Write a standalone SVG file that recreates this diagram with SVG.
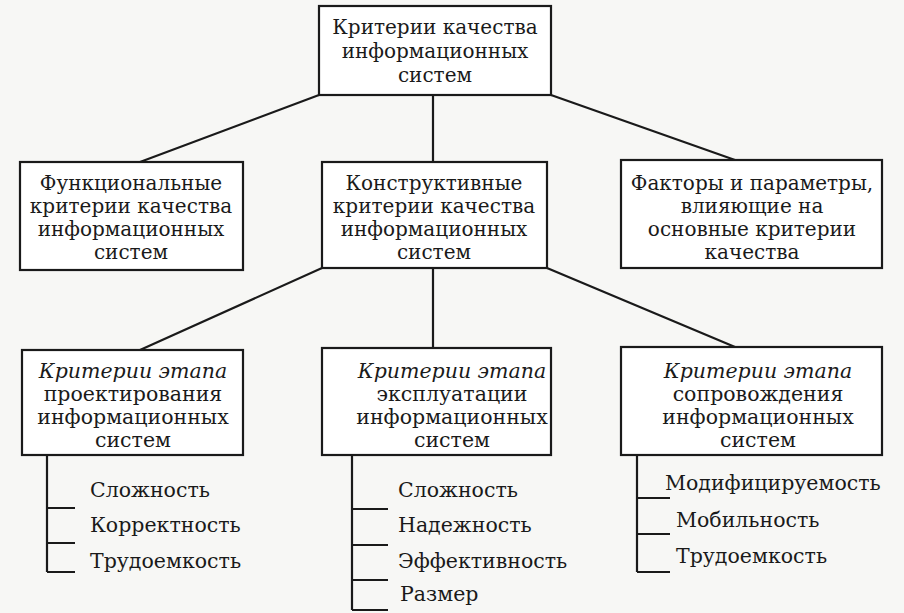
<svg xmlns="http://www.w3.org/2000/svg" width="904" height="613" viewBox="0 0 904 613">
<style>
.b{fill:#fff;stroke:#1a1a1a;stroke-width:2.2}
.c{stroke:#1a1a1a;stroke-width:2.2;fill:none}
text{font-family:'DejaVu Serif','Liberation Serif','Noto Serif',serif;fill:#1a1a1a}
.t{font-size:20px;text-anchor:middle}
.r3{font-size:20.5px}
.l{font-size:20.5px}
.i{font-style:italic}
</style>
<rect width="904" height="613" fill="#f7f7f5"/>
<g id="connectors">
<path class="c" d="M319,95 L140,162 M433,95 V162 M551,95 L735,160"/>
<path class="c" d="M322,268 L140,350 M433,268 V348 M547,268 L735,347"/>
<path class="c" d="M47,455 V572 M47,508 H75 M47,543 H75 M47,572 H75"/>
<path class="c" d="M352,455 V610 M352,509 H388 M352,545 H388 M352,580 H388 M352,610 H388"/>
<path class="c" d="M637,455 V572 M637,498 H670 M637,534 H670 M637,572 H670"/>
</g>
<g id="root">
<rect class="b" x="319" y="6" width="232" height="89"/>
<text class="t" x="435" y="34">Критерии качества</text>
<text class="t" x="435" y="58">информационных</text>
<text class="t" x="435" y="82">систем</text>
</g>
<g id="functional">
<rect class="b" x="20" y="162" width="223" height="108"/>
<text class="t" x="131" y="190">Функциональные</text>
<text class="t" x="131" y="213">критерии качества</text>
<text class="t" x="131" y="236">информационных</text>
<text class="t" x="131" y="259">систем</text>
</g>
<g id="constructive">
<rect class="b" x="322" y="162" width="225" height="106"/>
<text class="t" x="434" y="190">Конструктивные</text>
<text class="t" x="434" y="213">критерии качества</text>
<text class="t" x="434" y="236">информационных</text>
<text class="t" x="434" y="259">систем</text>
</g>
<g id="factors">
<rect class="b" x="621" y="160" width="261" height="108"/>
<text class="t" x="752" y="190">Факторы и параметры,</text>
<text class="t" x="752" y="213">влияющие на</text>
<text class="t" x="752" y="236">основные критерии</text>
<text class="t" x="752" y="259">качества</text>
</g>
<g id="design">
<rect class="b" x="22" y="350" width="221" height="105"/>
<text class="t r3 i" x="133" y="378">Критерии этапа</text>
<text class="t r3" x="133" y="401">проектирования</text>
<text class="t r3" x="133" y="424">информационных</text>
<text class="t r3" x="133" y="447">систем</text>
</g>
<g id="operation">
<rect class="b" x="322" y="348" width="229" height="107"/>
<text class="t r3 i" x="452" y="378">Критерии этапа</text>
<text class="t r3" x="452" y="401">эксплуатации</text>
<text class="t r3" x="452" y="424">информационных</text>
<text class="t r3" x="452" y="447">систем</text>
</g>
<g id="maintenance">
<rect class="b" x="621" y="347" width="261" height="108"/>
<text class="t r3 i" x="758" y="378">Критерии этапа</text>
<text class="t r3" x="758" y="401">сопровождения</text>
<text class="t r3" x="758" y="424">информационных</text>
<text class="t r3" x="758" y="447">систем</text>
</g>
<g id="list-design">
<text class="l" x="90" y="497">Сложность</text>
<text class="l" x="90" y="532">Корректность</text>
<text class="l" x="90" y="568">Трудоемкость</text>
</g>
<g id="list-operation">
<text class="l" x="398" y="497">Сложность</text>
<text class="l" x="398" y="532">Надежность</text>
<text class="l" x="398" y="568">Эффективность</text>
<text class="l" x="400" y="601">Размер</text>
</g>
<g id="list-maintenance">
<text class="l" x="665" y="490">Модифицируемость</text>
<text class="l" x="676" y="527">Мобильность</text>
<text class="l" x="676" y="563">Трудоемкость</text>
</g>
</svg>
